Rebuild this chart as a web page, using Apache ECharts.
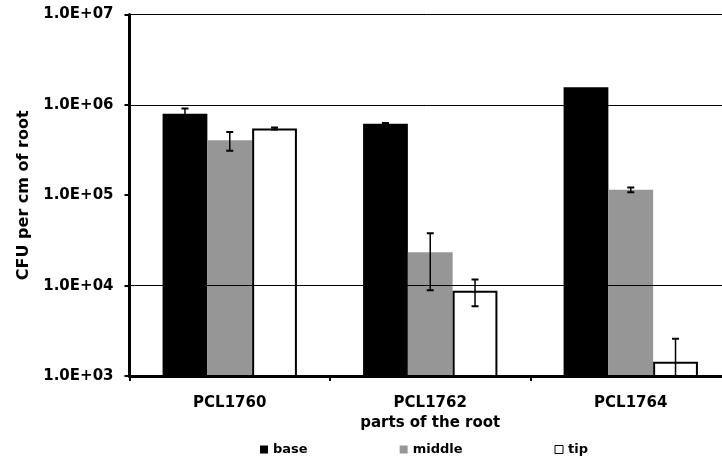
<!DOCTYPE html>
<html><head><meta charset="utf-8">
<script src="https://cdn.jsdelivr.net/npm/echarts@6/dist/echarts.min.js"></script>
<style>html,body{margin:0;padding:0;background:#fff}#c{width:722px;height:458px}</style>
</head><body><div id="c"></div>
<script>
const categories = ['PCL1760', 'PCL1762', 'PCL1764'];
const seriesNames = ['base', 'middle', 'tip'];
const baseValues = [800000, 620000, 1570000];
const middleValues = [405000, 23400, 115000];
const tipValues = [548000, 8800, 1440];
const baseErrors = [110000, 10000, 0];
const middleErrors = [95000, 14500, 7000];
const tipErrors = [14000, 2900, 1150];
const yTickLabels = ['1.0E+03', '1.0E+04', '1.0E+05', '1.0E+06', '1.0E+07'];
const gridValues = [1e4, 1e6, 1e7];
const xTitle = 'parts of the root';
const yTitle = 'CFU per cm of root';

const FONT = 'DejaVu Sans';
const YMIN = 1000, YMAX = 1e7;
const GAP = 0.33;

const values = [baseValues, middleValues, tipValues];
const errors = [baseErrors, middleErrors, tipErrors];
const styles = [
  { color: '#000000' },
  { color: '#969696' },
  { color: '#ffffff', borderColor: '#000000', borderWidth: 2 }
];

function errRender(k) {
  return function (params, api) {
    const i = api.value(0), v = api.value(1), e = api.value(2);
    if (!e) return null;
    const band = api.size([1, 0])[0];
    const bw = band * (1 - GAP) / 3;
    const cx = api.coord([i, v])[0] + (k - 1) * bw;
    const yTop = api.coord([i, v + e])[1];
    const lowV = v - e;
    const yBot = lowV > YMIN ? api.coord([i, lowV])[1] : api.coord([i, YMIN])[1] + 2;
    const hasLowCap = lowV > YMIN;
    const st = { stroke: '#000', lineWidth: 1.5 };
    const cap = { stroke: '#000', lineWidth: 2 };
    const ch = [
      { type: 'line', shape: { x1: cx, y1: yTop, x2: cx, y2: yBot }, style: st },
      { type: 'line', shape: { x1: cx - 3.5, y1: yTop, x2: cx + 3.5, y2: yTop }, style: cap }
    ];
    if (hasLowCap) ch.push({ type: 'line', shape: { x1: cx - 3.5, y1: yBot, x2: cx + 3.5, y2: yBot }, style: cap });
    return { type: 'group', children: ch };
  };
}

const series = [];
seriesNames.forEach((n, k) => {
  series.push({
    name: n, type: 'bar', data: values[k],
    barGap: '0%', barCategoryGap: (GAP * 100) + '%',
    itemStyle: styles[k], z: 2, clip: true
  });
});
seriesNames.forEach((n, k) => {
  series.push({
    name: n + ' error', type: 'custom', z: 3, clip: true,
    renderItem: errRender(k),
    encode: { x: 0, y: 1 },
    data: categories.map((c, i) => [i, values[k][i], errors[k][i]])
  });
});
series.push({
  name: 'grid', type: 'line', data: [], z: 1, silent: true,
  markLine: {
    silent: true, symbol: 'none', label: { show: false }, animation: false,
    lineStyle: { color: '#000', width: 1, type: 'solid' },
    data: gridValues.map(v => ({ yAxis: v }))
  }
});

const chart = echarts.init(document.getElementById('c'), null, { renderer: 'canvas' });
chart.setOption({
  animation: false,
  backgroundColor: '#ffffff',
  grid: { left: 129.5, right: -9, top: 14.5, bottom: 82, containLabel: false, outerBoundsMode: 'none' },
  legend: {
    data: seriesNames, left: 260, top: 443, padding: 0, itemGap: 92,
    itemWidth: 8, itemHeight: 8, icon: 'rect',
    itemStyle: { borderWidth: 1 },
    textStyle: { fontFamily: FONT, fontWeight: 'bold', fontSize: 13, color: '#000' }
  },
  xAxis: {
    type: 'category', data: categories, z: 10,
    axisLine: { lineStyle: { color: '#000', width: 3 } },
    axisTick: { show: true, length: 5, interval: 0, lineStyle: { color: '#000', width: 2 } },
    axisLabel: { interval: 0, margin: 20, fontFamily: FONT, fontWeight: 'bold', fontSize: 15, color: '#000' },
    name: xTitle, nameLocation: 'middle', nameGap: 39,
    nameTextStyle: { fontFamily: FONT, fontWeight: 'bold', fontSize: 15, color: '#000' },
    splitLine: { show: false }
  },
  yAxis: {
    type: 'log', logBase: 10, min: YMIN, max: YMAX, z: 10,
    axisLine: { show: true, lineStyle: { color: '#000', width: 3 } },
    axisTick: { show: true, inside: false, length: 5, lineStyle: { color: '#000', width: 2 } },
    axisLabel: {
      margin: 16, fontFamily: FONT, fontWeight: 'bold', fontSize: 15, color: '#000',
      formatter: v => yTickLabels[Math.round(Math.log10(v / YMIN))]
    },
    splitLine: { show: false }, minorTick: { show: false },
    name: yTitle, nameLocation: 'middle', nameGap: 95, nameRotate: 90,
    nameTextStyle: { fontFamily: FONT, fontWeight: 'bold', fontSize: 16, color: '#000' }
  },
  series: series
});
</script></body></html>
